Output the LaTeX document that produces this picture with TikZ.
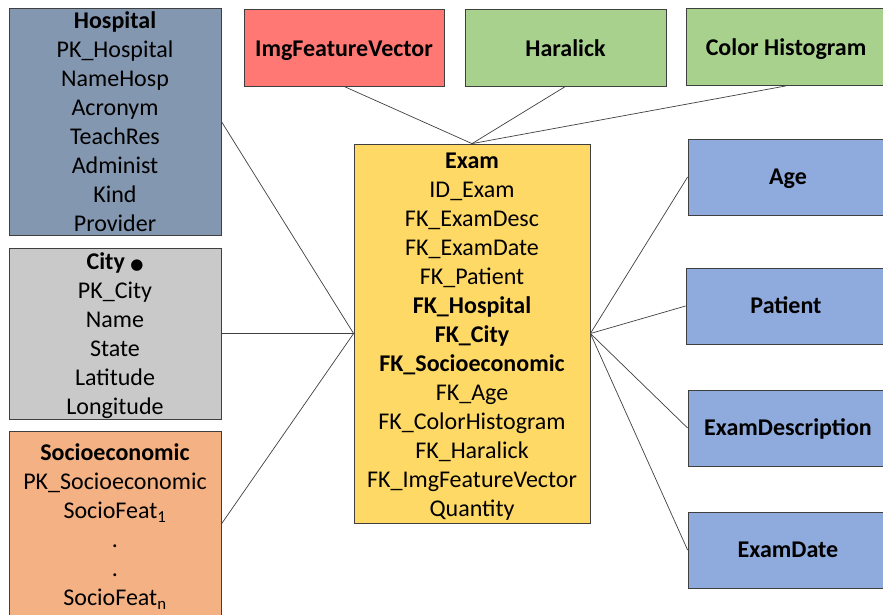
\documentclass[tikz,border=0pt]{standalone}
\usepackage{fontspec}
\setmainfont{Carlito}
\newfontfamily\symfont{DejaVu Sans}
\newcommand\firstrowstrut{\rule{0pt}{22pt}}
\definecolor{boxline}{HTML}{3F3F3F}
\definecolor{linkgray}{HTML}{404040}
\definecolor{hospblue}{HTML}{8497B0}
\definecolor{citygray}{HTML}{C9C9C9}
\definecolor{socioorange}{HTML}{F4B183}
\definecolor{featred}{HTML}{FF7873}
\definecolor{featgreen}{HTML}{A9D18E}
\definecolor{examyellow}{HTML}{FFD966}
\definecolor{dimblue}{HTML}{8FAADC}
\begin{document}
\begin{tikzpicture}[x=1pt,y=-1pt,
  entity/.style={draw=boxline, line width=0.8pt, inner sep=0pt, align=center,
    font=\fontsize{24}{29}\selectfont, text=black},
  dimbox/.style={entity, fill=dimblue, minimum width=200pt, minimum height=76pt,
    font=\fontsize{24}{29}\selectfont\bfseries, text height=17pt, text depth=2pt},
  featbox/.style={entity, minimum width=200pt, minimum height=77pt,
    font=\fontsize{24}{29}\selectfont\bfseries, text height=17pt, text depth=0pt},
  link/.style={draw=linkgray, line width=0.7pt}]
\fill[white] (0,0) rectangle (883,614);
\useasboundingbox (0,0) rectangle (883,614);

% fact table
\node[entity, fill=examyellow, minimum width=236pt, minimum height=379pt] (exam) at (472,333.5)
  {\firstrowstrut\textbf{Exam}\\ID\_Exam\\FK\_ExamDesc\\FK\_ExamDate\\FK\_Patient\\\textbf{FK\_Hospital}\\
   \textbf{FK\_City}\\\textbf{FK\_Socioeconomic}\\FK\_Age\\FK\_ColorHistogram\\FK\_Haralick\\
   FK\_ImgFeatureVector\\Quantity};

% left-hand dimensions
\node[entity, fill=hospblue, minimum width=212pt, minimum height=227pt] (hospital) at (115,121.5)
  {\textbf{Hospital}\\PK\_Hospital\\NameHosp\\Acronym\\TeachRes\\Administ\\Kind\\Provider};
\node[entity, fill=citygray, minimum width=212pt, minimum height=165pt] (city) at (115,333.5)
  {\firstrowstrut\textbf{City} {\symfont\fontsize{15}{15}\selectfont ●}\\PK\_City\\Name\\State\\Latitude\\Longitude};
\node[entity, fill=socioorange, minimum width=212pt, minimum height=186pt] (socio) at (115,524)
  {\firstrowstrut\textbf{Socioeconomic}\\PK\_Socioeconomic\\SocioFeat\textsubscript{1}\\.\\.\\SocioFeat\textsubscript{n}};

% image feature dimensions
\node[featbox, fill=featred] (imgfv) at (344,47.5) {ImgFeatureVector};
\node[featbox, fill=featgreen, minimum width=201pt] (haralick) at (565.5,47.5) {Haralick};
\node[featbox, fill=featgreen] (colorhist) at (786,47) {Color Histogram};

% right-hand dimensions
\node[dimbox] (age) at (788,177) {Age};
\node[dimbox] (patient) at (786,306) {Patient};
\node[dimbox] (examdesc) at (788,428) {ExamDescription};
\node[dimbox] (examdate) at (788,550) {ExamDate};

% relationships
\draw[link] (hospital.east) -- (exam.west);
\draw[link] (city.east) -- (exam.west);
\draw[link] (socio.east) -- (exam.west);
\draw[link] (imgfv.south) -- (exam.north);
\draw[link] (haralick.south) -- (exam.north);
\draw[link] (colorhist.south) -- (exam.north);
\draw[link] (exam.east) -- (age.west);
\draw[link] (exam.east) -- (patient.west);
\draw[link] (exam.east) -- (examdesc.west);
\draw[link] (exam.east) -- (examdate.west);
\end{tikzpicture}
\end{document}
